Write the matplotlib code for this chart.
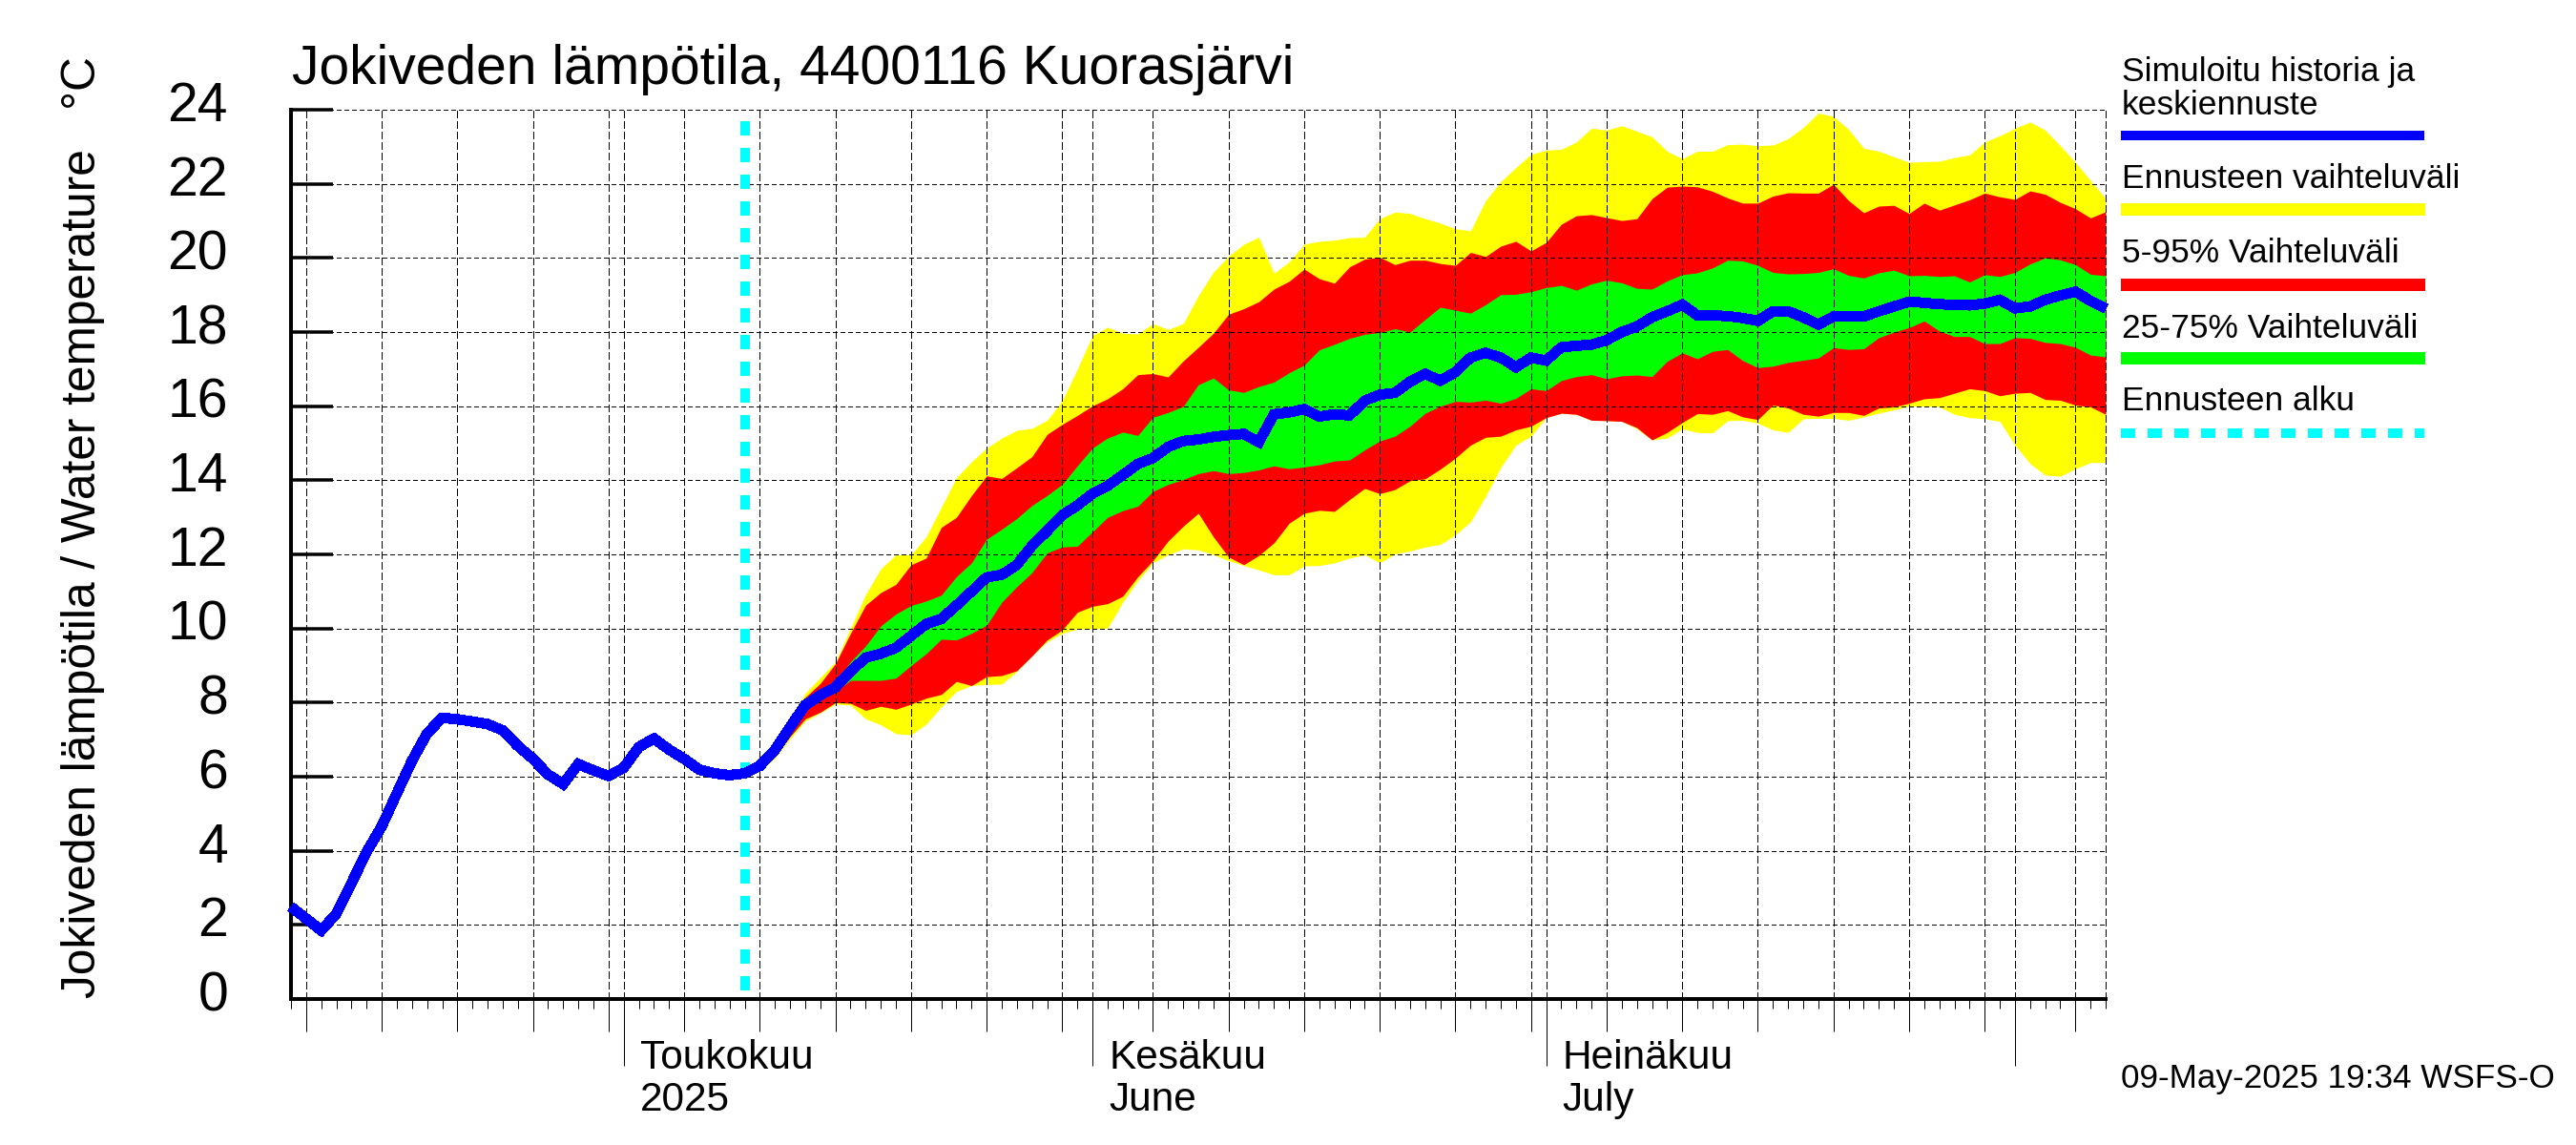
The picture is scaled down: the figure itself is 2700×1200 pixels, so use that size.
import pandas as pd
import matplotlib
matplotlib.use("Agg")
import matplotlib.pyplot as plt
import matplotlib.dates as mdates
from matplotlib.lines import Line2D
from matplotlib.transforms import ScaledTranslation

plt.rcParams['font.family'] = ['Liberation Sans', 'DejaVu Sans']
plt.rcParams['lines.antialiased'] = False
plt.rcParams['patch.antialiased'] = False

# daily values, first day 9 Apr 2025
mean_line = [
    2.49, 2.17, 1.85, 2.3, 3.13, 3.97, 4.66, 5.55, 6.43, 7.17,
    7.59, 7.55, 7.49, 7.42, 7.25, 6.83, 6.48, 6.06, 5.8, 6.34,
    6.17, 6.02, 6.24, 6.8, 7.03, 6.73, 6.48, 6.19, 6.09, 6.04,
    6.09, 6.29, 6.72, 7.34, 7.93, 8.2, 8.41, 8.84, 9.21, 9.32,
    9.48, 9.8, 10.12, 10.26, 10.62, 11.0, 11.38, 11.45, 11.72, 12.23,
    12.63, 13.06, 13.32, 13.64, 13.85, 14.14, 14.44, 14.6, 14.9, 15.06,
    15.1, 15.17, 15.22, 15.25, 15.03, 15.78, 15.83, 15.92, 15.72, 15.78,
    15.75, 16.15, 16.31, 16.36, 16.66, 16.87, 16.69, 16.92, 17.31, 17.44,
    17.31, 17.05, 17.31, 17.23, 17.59, 17.63, 17.66, 17.78, 18.0, 18.15,
    18.4, 18.56, 18.74, 18.45, 18.45, 18.43, 18.38, 18.3, 18.56, 18.56,
    18.4, 18.2, 18.42, 18.42, 18.42, 18.56, 18.69, 18.82, 18.79, 18.75,
    18.74, 18.72, 18.77, 18.87, 18.64, 18.69, 18.87, 18.99, 19.09, 18.84,
    18.64]

# forecast bands start on 9 May
yellow_upper = [
    6.03, 6.27, 6.86, 7.56, 8.25, 8.68, 9.1, 10.01, 10.92, 11.61,
    11.99, 11.99, 12.47, 13.27, 14.07, 14.5, 14.87, 15.14, 15.35, 15.4,
    15.62, 16.15, 17.0, 17.91, 18.13, 17.97, 17.95, 18.23, 18.07, 18.23,
    18.98, 19.62, 20.05, 20.37, 20.56, 19.59, 19.89, 20.37, 20.45, 20.48,
    20.55, 20.56, 21.06, 21.24, 21.2, 21.06, 20.94, 20.79, 20.73, 21.55,
    22.06, 22.44, 22.8, 22.91, 22.93, 23.13, 23.5, 23.45, 23.57, 23.42,
    23.27, 22.88, 22.68, 22.88, 22.88, 23.06, 23.07, 23.03, 23.05, 23.22,
    23.52, 23.91, 23.82, 23.47, 22.96, 22.88, 22.73, 22.58, 22.6, 22.61,
    22.71, 22.78, 23.13, 23.3, 23.5, 23.67, 23.45, 23.03, 22.58, 22.09,
    21.6]
red_upper = [
    6.03, 6.25, 6.8, 7.45, 8.14, 8.52, 9.05, 9.87, 10.63, 10.97,
    11.19, 11.72, 11.9, 12.73, 13.0, 13.59, 14.12, 14.05, 14.34, 14.64,
    15.24, 15.51, 15.75, 16.01, 16.2, 16.47, 16.85, 16.88, 16.79, 17.22,
    17.59, 17.97, 18.48, 18.63, 18.82, 19.16, 19.37, 19.7, 19.44, 19.32,
    19.76, 19.97, 20.02, 19.82, 19.94, 19.94, 19.85, 19.8, 20.15, 20.04,
    20.32, 20.45, 20.19, 20.42, 20.91, 21.14, 21.17, 21.09, 21.01, 21.06,
    21.6, 21.91, 21.94, 21.92, 21.8, 21.62, 21.48, 21.48, 21.67, 21.76,
    21.75, 21.75, 21.99, 21.55, 21.22, 21.4, 21.42, 21.2, 21.48, 21.29,
    21.43, 21.57, 21.75, 21.65, 21.58, 21.81, 21.72, 21.5, 21.33, 21.08,
    21.25]
green_upper = [
    6.03, 6.27, 6.78, 7.38, 8.0, 8.25, 8.57, 9.1, 9.53, 10.07,
    10.39, 10.62, 10.74, 10.9, 11.4, 11.77, 12.41, 12.68, 12.97, 13.32,
    13.59, 13.89, 14.39, 14.87, 15.14, 15.3, 15.21, 15.7, 15.83, 15.99,
    16.58, 16.76, 16.44, 16.37, 16.53, 16.65, 16.9, 17.11, 17.52, 17.67,
    17.83, 17.94, 17.99, 18.09, 18.0, 18.34, 18.67, 18.59, 18.51, 18.74,
    19.01, 19.02, 19.09, 19.2, 19.26, 19.13, 19.3, 19.4, 19.33, 19.18,
    19.16, 19.38, 19.55, 19.6, 19.73, 19.94, 19.92, 19.8, 19.61, 19.57,
    19.58, 19.61, 19.71, 19.53, 19.46, 19.6, 19.67, 19.52, 19.53, 19.5,
    19.52, 19.35, 19.55, 19.5, 19.61, 19.84, 20.0, 19.95, 19.82, 19.56,
    19.52]
green_lower = [
    6.0, 6.22, 6.7, 7.28, 7.85, 8.1, 8.3, 8.6, 8.6, 8.6,
    8.66, 9.0, 9.32, 9.71, 9.69, 9.87, 10.09, 10.71, 11.13, 11.51,
    12.04, 12.2, 12.22, 12.61, 13.0, 13.18, 13.3, 13.7, 13.89, 14.02,
    14.18, 14.26, 14.18, 14.21, 14.28, 14.39, 14.31, 14.36, 14.42, 14.52,
    14.55, 14.82, 15.06, 15.19, 15.46, 15.81, 16.0, 16.13, 16.11, 16.16,
    16.08, 16.21, 16.47, 16.42, 16.69, 16.8, 16.85, 16.74, 16.82, 16.84,
    16.8, 17.21, 17.44, 17.28, 17.48, 17.53, 17.23, 17.04, 17.08, 17.18,
    17.24, 17.3, 17.58, 17.53, 17.55, 17.85, 18.0, 18.12, 18.3, 18.03,
    17.88, 17.88, 17.69, 17.69, 17.85, 17.83, 17.72, 17.69, 17.59, 17.38,
    17.33]
red_lower = [
    5.95, 6.2, 6.54, 7.08, 7.56, 7.74, 8.0, 7.98, 7.79, 7.9,
    7.82, 7.96, 8.12, 8.22, 8.57, 8.46, 8.7, 8.73, 8.86, 9.26,
    9.69, 9.96, 10.44, 10.6, 10.67, 10.87, 11.4, 11.83, 12.36, 12.76,
    13.11, 12.47, 11.93, 11.72, 11.97, 12.31, 12.84, 13.11, 13.19, 13.16,
    13.48, 13.78, 13.64, 13.75, 13.99, 14.04, 14.3, 14.6, 14.95, 15.16,
    15.19, 15.36, 15.46, 15.69, 15.81, 15.78, 15.62, 15.61, 15.59, 15.42,
    15.09, 15.29, 15.56, 15.8, 15.78, 15.88, 15.71, 15.64, 16.03, 15.95,
    15.78, 15.73, 15.83, 15.83, 15.75, 15.95, 15.98, 16.08, 16.2, 16.23,
    16.35, 16.47, 16.42, 16.28, 16.35, 16.37, 16.18, 16.16, 16.03, 15.98,
    15.78]
yellow_lower = [
    5.95, 6.17, 6.49, 7.02, 7.5, 7.72, 7.96, 7.93, 7.56, 7.4,
    7.16, 7.13, 7.42, 7.88, 8.3, 8.46, 8.49, 8.5, 8.84, 9.26,
    9.64, 9.87, 9.98, 9.99, 10.01, 10.71, 11.29, 11.77, 11.99, 12.15,
    12.12, 11.99, 11.83, 11.7, 11.58, 11.45, 11.45, 11.69, 11.7, 11.77,
    11.9, 11.99, 11.77, 12.01, 12.09, 12.2, 12.27, 12.53, 12.88, 13.57,
    14.35, 14.95, 15.19, 15.69, 15.81, 15.78, 15.62, 15.61, 15.59, 15.39,
    15.09, 15.14, 15.39, 15.29, 15.28, 15.61, 15.62, 15.54, 15.36, 15.29,
    15.66, 15.67, 15.67, 15.62, 15.71, 15.81, 15.9, 16.0, 16.0, 15.98,
    15.78, 15.69, 15.66, 15.59, 14.95, 14.45, 14.14, 14.11, 14.31, 14.48,
    14.48]

y_ticks = list(range(0, 25, 2))
month_labels = {'2025-05-01': ('Toukokuu', '2025'),
                '2025-06-01': ('Kesäkuu', 'June'),
                '2025-07-01': ('Heinäkuu', 'July')}
month_ticks = ['2025-05-01', '2025-06-01', '2025-07-01', '2025-08-01']
legend_labels = ['Simuloitu historia ja\nkeskiennuste', 'Ennusteen vaihteluväli',
                 '5-95% Vaihteluväli', '25-75% Vaihteluväli', 'Ennusteen alku']

W, H = 2700, 1200
PT = 0.72  # one pixel in points at dpi 100


def fx(x):
    return x / W


def fy(y):
    return 1 - y / H


def main():

    dates = pd.date_range('2025-04-09', periods=len(mean_line))
    x = mdates.date2num(dates)
    fx_x = x[30:]

    fig = plt.figure(figsize=(27, 12), dpi=100)
    ax = fig.add_axes([fx(305), fy(1047), 1902 / W, 932 / H])

    ax.fill_between(fx_x, yellow_lower, yellow_upper, color='#ffff00', lw=0, zorder=1)
    ax.fill_between(fx_x, red_lower, red_upper, color='#ff0000', lw=0, zorder=1.1)
    ax.fill_between(fx_x, green_lower, green_upper, color='#00ff00', lw=0, zorder=1.2)

    start = mdates.date2num(pd.Timestamp('2025-05-09'))
    ax.plot([start, start], [23.7, 0], color='#00ffff', lw=10 * PT, dashes=(1.5, 1.334),
            dash_capstyle='butt', zorder=3)
    ax.plot(x, mean_line, color='#0000ff', lw=10 * PT, solid_joinstyle='miter',
            solid_capstyle='butt', clip_on=False, zorder=4)

    ax.set_xlim(x[0], x[-1])
    ax.set_ylim(0, 24)

    major = [d for d, day in zip(x, dates.day) if day % 5 == 0 or day == 1]
    ax.set_xticks(major)
    ax.set_xticklabels([])
    ax.set_xticks(x, minor=True)
    ax.tick_params(axis='x', which='major', direction='out', length=34 * PT, width=PT)
    ax.tick_params(axis='x', which='minor', direction='out', length=10 * PT, width=PT)

    ax.set_yticks(y_ticks)
    ax.set_yticklabels([str(v) for v in y_ticks], fontsize=41)
    ax.tick_params(axis='y', direction='in', length=44 * PT, width=3.5 * PT, pad=66 * PT)
    offset = ScaledTranslation(0, 9 / 100, fig.dpi_scale_trans)
    for label in ax.get_yticklabels():
        label.set_transform(label.get_transform() + offset)

    ax.set_axisbelow(False)
    ax.grid(axis='y', color='black', lw=PT * 1.2, dashes=(4, 3), clip_on=False)
    ax.grid(axis='x', color='black', lw=PT, dashes=(8, 4), clip_on=False)
    ax.axvline(x[-1], color='black', lw=PT, dashes=(8, 4), clip_on=False)

    for side in ['top', 'right']:
        ax.spines[side].set_visible(False)
    for side in ['left', 'bottom']:
        ax.spines[side].set_linewidth(4 * PT)

    months = ax.secondary_xaxis('bottom')
    months.set_xticks(mdates.date2num(pd.to_datetime(month_ticks)))
    months.set_xticklabels([])
    months.tick_params(direction='out', length=70 * PT, width=PT)
    months.spines['bottom'].set_visible(False)

    for tick, (first, second) in month_labels.items():
        pos = mdates.date2num(pd.Timestamp(tick))
        for text, down in [(first, 73), (second, 117)]:
            ax.annotate(text, (pos, 0), xycoords=('data', 'axes fraction'),
                        xytext=(17 * PT, -down * PT), textcoords='offset points',
                        ha='left', va='baseline', fontsize=30.5)

    fig.text(fx(306), fy(88), 'Jokiveden lämpötila, 4400116 Kuorasjärvi',
             fontsize=41, ha='left', va='baseline')
    fig.text(fx(100), fy(1046), 'Jokiveden lämpötila / Water temperature   °C',
             fontsize=35.7, rotation=90, rotation_mode='anchor', ha='left', va='baseline')
    fig.text(fx(2223), fy(1140), '09-May-2025 19:34 WSFS-O',
             fontsize=25.3, ha='left', va='baseline')

    fig.text(fx(2224), fy(85), legend_labels[0].split('\n')[0], fontsize=25.5, va='baseline')
    fig.text(fx(2224), fy(119.5), legend_labels[0].split('\n')[1], fontsize=25.5, va='baseline')
    for label, base in zip(legend_labels[1:], [197, 275, 353.5, 430]):
        fig.text(fx(2224), fy(base), label, fontsize=25.5, va='baseline')

    for color, y_pos, thick in [('#0000ff', 142, 10), ('#ffff00', 219.5, 13),
                                ('#ff0000', 297.5, 13), ('#00ff00', 375, 13)]:
        fig.add_artist(Line2D([fx(2223), fx(2541)], [fy(y_pos), fy(y_pos)], color=color,
                              lw=thick * PT, solid_capstyle='butt'))
    fig.add_artist(Line2D([fx(2223), fx(2541)], [fy(453.5), fy(453.5)], color='#00ffff',
                          lw=10 * PT, dashes=(1.5, 1.334), dash_capstyle='butt'))

    fig.savefig('out.png', dpi=100)


if __name__ == '__main__':
    main()
